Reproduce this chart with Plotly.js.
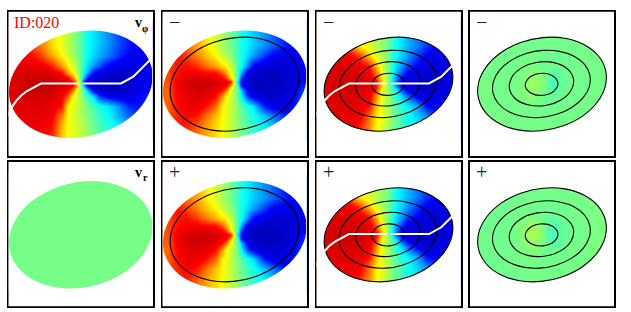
<!DOCTYPE html>
<html><head><meta charset="utf-8">
<script src="https://cdn.plot.ly/plotly-3.0.1.min.js"></script>
<style>html,body{margin:0;padding:0;background:#fff}</style></head>
<body><div id="chart" style="width:631px;height:312px"></div>
<script>
const gridX = [5.8,15.4,25,34.6,44.2,53.8,60,65,69,72.5,76,80,86,92.2,101.8,111.4,121,130.6,140.2];
const gridY = [15,25,35,45,55,62,67,71,75,79,85,95,105,115,125];
const mapVPhi = [
[.8,.75,.62,.48,.32,.2,.12,.05,-.02,-.08,-.15,-.23,-.3,-.37,-.48,-.6,-.7,-.8,-.8],
[.8,.75,.62,.48,.32,.2,.12,.05,-.02,-.08,-.15,-.23,-.3,-.37,-.48,-.6,-.7,-.8,-.8],
[.8,.75,.62,.48,.32,.2,.12,.05,-.02,-.08,-.15,-.23,-.3,-.37,-.48,-.6,-.7,-.8,-.8],
[.8,.78,.73,.6,.43,.27,.15,.07,.01,-.06,-.14,-.25,-.33,-.41,-.53,-.66,-.78,-.82,-.82],
[.85,.85,.85,.8,.7,.45,.3,.19,.08,-.06,-.2,-.32,-.46,-.6,-.8,-.85,-.85,-.82,-.8],
[.88,.9,.9,.9,.85,.75,.45,.27,.1,-.03,-.25,-.43,-.75,-.85,-.92,-.95,-.92,-.85,-.8],
[.88,.92,.95,.95,.92,.85,.78,.5,.25,-.05,-.35,-.75,-.88,-.95,-1,-1,-.95,-.87,-.8],
[.88,.93,.98,1,.97,.9,.82,.75,.45,0,-.75,-.85,-.93,-1,-1,-1,-.95,-.87,-.8],
[.88,.93,.98,1,.97,.9,.82,.75,.45,.05,-.33,-.78,-.9,-1,-1,-1,-.95,-.87,-.8],
[.88,.93,.95,.97,.94,.85,.78,.54,.22,.06,-.12,-.4,-.82,-.92,-1,-1,-.92,-.85,-.78],
[.88,.9,.92,.92,.88,.78,.6,.25,.15,.07,-.03,-.14,-.35,-.66,-.82,-.88,-.85,-.75,-.7],
[.85,.87,.88,.87,.83,.72,.27,.2,.15,.1,.03,-.03,-.12,-.21,-.32,-.46,-.68,-.72,-.65],
[.82,.84,.85,.83,.78,.5,.25,.19,.14,.1,.05,0,-.07,-.15,-.26,-.4,-.55,-.68,-.65],
[.8,.82,.82,.8,.73,.4,.23,.2,.16,.13,.09,.05,-.05,-.11,-.2,-.28,-.4,-.5,-.55],
[.78,.8,.8,.78,.68,.38,.23,.2,.16,.13,.09,.05,-.02,-.08,-.16,-.26,-.38,-.45,-.5]];
const mapModel = [
[.6,.68,.55,.43,.3,.17,.09,.03,-.03,-.08,-.14,-.2,-.28,-.35,-.45,-.56,-.67,-.78,-.8],
[.6,.68,.55,.43,.3,.17,.09,.03,-.03,-.08,-.14,-.2,-.28,-.35,-.45,-.56,-.67,-.78,-.8],
[.6,.68,.55,.43,.3,.17,.09,.03,-.03,-.08,-.14,-.2,-.28,-.35,-.45,-.56,-.67,-.78,-.8],
[.62,.74,.62,.5,.38,.27,.15,.09,.02,-.05,-.13,-.22,-.33,-.45,-.63,-.78,-.85,-.87,-.8],
[.62,.7,.73,.66,.54,.42,.33,.26,.14,.02,-.12,-.22,-.5,-.78,-.88,-.92,-.92,-.88,-.78],
[.6,.72,.78,.78,.76,.73,.6,.42,.22,.05,-.13,-.45,-.85,-.92,-.97,-.97,-.95,-.9,-.78],
[.6,.75,.85,.88,.88,.82,.77,.6,.3,.07,-.15,-.65,-.88,-.95,-1,-1,-.97,-.9,-.75],
[.58,.78,.9,.95,.95,.9,.85,.8,.76,.1,-.3,-.78,-.9,-1,-1,-1,-1,-.9,-.72],
[.58,.78,.9,.95,.95,.88,.8,.76,.4,.08,-.1,-.75,-.9,-1,-1,-1,-.97,-.88,-.7],
[.56,.77,.88,.92,.92,.83,.76,.5,.2,.06,-.05,-.4,-.8,-.95,-1,-1,-.95,-.85,-.65],
[.55,.75,.85,.88,.85,.75,.5,.25,.15,.05,-.06,-.28,-.65,-.85,-.95,-.95,-.9,-.8,-.6],
[.55,.72,.82,.83,.73,.55,.3,.2,.13,.07,0,-.08,-.2,-.32,-.68,-.85,-.85,-.75,-.55],
[.55,.68,.76,.71,.54,.37,.27,.19,.13,.07,.02,-.04,-.13,-.21,-.35,-.5,-.65,-.76,-.6],
[.55,.7,.69,.57,.45,.33,.25,.18,.13,.08,.03,-.02,-.09,-.16,-.27,-.38,-.5,-.62,-.7],
[.55,.72,.65,.53,.42,.32,.25,.18,.13,.08,.03,-.02,-.08,-.14,-.24,-.34,-.45,-.55,-.65]];
const mapSum = [
[.8,.8,.75,.51,.27,.17,.11,.05,.02,-.05,-.12,-.22,-.31,-.39,-.51,-.64,-.76,-.8,-.8],
[.8,.8,.75,.51,.27,.17,.11,.05,.02,-.05,-.12,-.22,-.31,-.39,-.51,-.64,-.76,-.8,-.8],
[.8,.8,.75,.51,.27,.17,.11,.05,.02,-.05,-.12,-.22,-.31,-.39,-.51,-.64,-.76,-.8,-.8],
[.82,.85,.82,.78,.63,.34,.19,.11,.05,-.04,-.13,-.25,-.35,-.46,-.64,-.78,-.85,-.85,-.82],
[.85,.88,.88,.85,.82,.7,.4,.22,.09,-.03,-.17,-.3,-.45,-.6,-.78,-.88,-.9,-.88,-.82],
[.85,.9,.92,.9,.87,.78,.55,.3,.12,-.01,-.2,-.37,-.58,-.8,-.88,-.92,-.92,-.88,-.82],
[.85,.9,.93,.93,.9,.83,.66,.35,.15,0,-.22,-.44,-.75,-.85,-.92,-.95,-.95,-.9,-.82],
[.85,.9,.95,.95,.92,.85,.78,.45,.2,.02,-.25,-.5,-.8,-.88,-.95,-1,-.97,-.9,-.82],
[.85,.92,.95,.95,.92,.85,.75,.4,.17,.02,-.18,-.45,-.75,-.85,-.95,-1,-.95,-.88,-.8],
[.85,.9,.93,.93,.9,.82,.7,.27,.14,.04,-.1,-.25,-.58,-.8,-.92,-.97,-.92,-.86,-.8],
[.85,.88,.9,.9,.87,.78,.5,.27,.13,.05,-.04,-.18,-.34,-.55,-.82,-.9,-.88,-.82,-.75],
[.85,.87,.88,.88,.82,.72,.4,.24,.13,.06,-.02,-.08,-.2,-.27,-.43,-.74,-.82,-.78,-.7],
[.82,.85,.85,.83,.8,.52,.3,.24,.16,.1,.01,-.04,-.13,-.21,-.35,-.48,-.62,-.75,-.7],
[.8,.82,.82,.8,.7,.47,.27,.21,.15,.07,0,-.05,-.12,-.2,-.3,-.4,-.52,-.62,-.65],
[.8,.82,.82,.8,.65,.45,.27,.21,.15,.07,0,-.04,-.1,-.18,-.27,-.37,-.47,-.55,-.6]];
const coarseX = [5.8,15.4,25,34.6,44.2,53.8,63.4,73,82.6,92.2,101.8,111.4,121,130.6,140.2];
const coarseY = [15,25,35,45,55,65,75,85,95,105,115,125];
const mapVr = [
[-.02,-.02,-.02,-.02,-.02,-.02,-.02,-.02,-.02,-.02,-.02,-.02,-.02,-.02,-.02],
[-.02,-.02,-.02,-.02,-.02,-.02,-.02,-.02,-.02,-.02,-.02,-.02,-.02,-.02,-.02],
[-.02,-.02,-.02,-.02,-.02,-.02,-.02,-.02,-.02,-.02,-.02,-.02,-.02,-.02,-.02],
[-.02,-.02,-.02,-.02,-.02,-.02,-.02,-.02,-.02,-.02,-.02,-.02,-.02,-.02,-.02],
[-.02,-.02,-.02,-.02,-.02,-.02,-.02,-.02,-.02,-.02,-.02,-.02,-.02,-.02,-.02],
[-.02,-.02,-.02,-.02,-.02,-.02,-.02,-.02,-.02,-.02,-.02,-.02,-.02,-.02,-.02],
[-.02,-.02,-.02,-.02,-.02,-.02,-.02,-.02,-.02,-.02,-.02,-.02,-.02,-.02,-.02],
[-.02,-.02,-.02,-.02,-.02,-.02,-.02,-.02,-.02,-.02,-.02,-.02,-.02,-.02,-.02],
[-.02,-.02,-.02,-.02,-.02,-.02,-.02,-.02,-.02,-.02,-.02,-.02,-.02,-.02,-.02],
[-.02,-.02,-.02,-.02,-.02,-.02,-.02,-.02,-.02,-.02,-.02,-.02,-.02,-.02,-.02],
[-.02,-.02,-.02,-.02,-.02,-.02,-.02,-.02,-.02,-.02,-.02,-.02,-.02,-.02,-.02],
[-.02,-.02,-.02,-.02,-.02,-.02,-.02,-.02,-.02,-.02,-.02,-.02,-.02,-.02,-.02]];
const mapResMinus = [
[-.02,-.02,-.02,-.02,-.02,-.02,-.02,-.02,-.02,-.02,-.02,-.02,-.02,-.02,-.02],
[-.02,-.02,-.02,-.02,-.02,-.02,-.02,-.02,-.02,-.02,-.02,-.02,-.02,-.02,-.02],
[-.01,-.02,-.02,-.03,-.02,-.02,-.03,-.02,-.02,-.03,-.02,-.02,-.03,-.02,-.02],
[-.01,-.02,-.02,-.02,-.03,-.02,-.02,-.03,-.03,-.03,-.02,-.02,-.02,-.02,-.02],
[-.01,-.02,-.02,-.02,-.02,-.02,-.01,-.03,-.04,-.03,-.02,-.02,-.02,-.02,-.02],
[-.01,-.02,-.02,-.02,-.02,0,.05,.01,-.1,-.06,-.02,-.03,-.02,-.02,-.02],
[-.01,-.01,-.02,-.02,-.02,.01,.07,.02,-.12,-.06,-.02,-.03,-.02,-.02,-.02],
[-.01,-.01,-.02,-.02,-.02,0,.02,-.02,-.05,-.03,-.02,-.02,-.02,-.02,-.02],
[-.01,-.01,-.02,-.02,-.02,-.02,-.02,-.03,-.03,-.02,-.02,-.02,-.02,-.02,-.02],
[-.01,-.01,-.01,-.02,-.02,-.02,-.02,-.02,-.02,-.02,-.02,-.02,-.02,-.02,-.02],
[-.01,-.01,-.01,-.01,-.02,-.02,-.02,-.02,-.02,-.02,-.02,-.02,-.02,-.02,-.02],
[-.01,-.01,-.01,-.01,-.02,-.02,-.02,-.02,-.02,-.02,-.02,-.02,-.02,-.02,-.02]];
const mapResPlus = [
[-.02,-.02,-.02,-.02,-.02,-.02,-.02,-.02,-.02,-.02,-.01,-.01,-.01,-.01,-.01],
[-.02,-.02,-.02,-.02,-.02,-.02,-.02,-.02,-.02,-.02,-.01,-.01,-.01,-.01,-.01],
[-.03,-.03,-.03,-.03,-.02,-.03,-.02,-.03,-.02,-.02,-.02,-.01,-.01,0,0],
[-.03,-.03,-.03,-.03,-.03,-.02,-.02,-.03,-.03,-.03,-.02,-.02,-.01,0,0],
[-.03,-.03,-.03,-.03,-.02,-.02,-.01,-.03,-.05,-.03,-.02,-.02,-.01,0,0],
[-.03,-.03,-.03,-.03,-.02,.02,.08,.01,-.12,-.06,-.03,-.02,-.01,0,0],
[-.03,-.03,-.03,-.03,-.02,.02,.1,.02,-.14,-.07,-.03,-.02,-.01,0,0],
[-.03,-.03,-.03,-.03,-.02,0,.03,-.02,-.05,-.04,-.02,-.02,-.01,0,0],
[-.03,-.03,-.03,-.03,-.02,-.02,-.02,-.03,-.03,-.02,-.02,-.02,-.01,0,0],
[-.03,-.03,-.03,-.03,-.02,-.02,-.02,-.02,-.02,-.02,-.02,-.01,-.01,0,0],
[-.03,-.03,-.03,-.03,-.03,-.02,-.02,-.02,-.02,-.02,-.01,-.01,-.01,0,0],
[-.03,-.03,-.03,-.03,-.03,-.02,-.02,-.02,-.02,-.02,-.01,-.01,-.01,0,0]];

const discX = [2.4,2.7,11.4,27.6,49.4,74,98.5,120,135.9,144.2,143.9,135.2,119,97.2,72.6,48,26.6,10.7];
const discY = [89.9,71.4,53.2,37.4,26.1,20.3,21,28,40.6,57.1,75.6,93.8,109.6,120.9,126.7,126,119,106.4];
const ringOuterX = [9.5,9.7,17.6,32.15,51.7,73.7,95.65,114.8,129.1,136.5,136.3,128.4,113.85,94.3,72.3,50.35,31.2,16.9];
const ringOuterY = [87.8,71.6,55.7,41.85,31.9,26.9,27.55,33.7,44.8,59.2,75.4,91.3,105.15,115.1,120.1,119.45,113.3,102.2];
const ringAX = [24,24.5,30.8,42.1,57.1,73.9,90.5,105,115.5,120.8,120.3,114,102.7,87.7,70.9,54.3,39.8,29.3];
const ringAY = [82.25,70.6,59.25,49.65,42.85,39.65,40.65,45.45,53.7,64.25,75.9,87.25,96.85,103.65,106.85,105.85,101.05,92.8];
const ringBX = [40.45,42.75,53,68.45,85,98.15,104.45,102.15,91.9,76.45,59.9,46.75];
const ringBY = [78.15,66.7,56.95,51.55,51.95,58,68.15,79.6,89.35,94.75,94.35,88.3];
const ringCX = [56.3,60,71.1,83,88.9,85.2,74.1,62.2];
const ringCY = [75.35,67.15,62.75,64.75,71.95,80.15,84.55,82.55];
const curveX = [0,3.5,9.5,14,19.5,29.5,33.5,71.5,null,75,113.5,125.8,135.8,141.8,146];
const curveY = [105.3,97.6,89.3,84.5,80.3,74.6,72.8,72.8,null,72.8,72.8,66,56.6,50,41];

const panelLefts = [7.5,161.5,315.5,469];
const panelTops = [10.7,161.3];
const panelSize = 146;
const W = 631, H = 312;
const jet = [[0,'#0000c0'],[.125,'#0000ff'],[.375,'#00ffff'],[.5,'#7fff7f'],[.625,'#ffff00'],[.875,'#ff0000'],[1,'#c00000']];

const allRings = [[ringOuterX,ringOuterY],[ringAX,ringAY],[ringBX,ringBY],[ringCX,ringCY]];
const big = [discX,discY], small = [ringOuterX,ringOuterY];
const panels = [
 {z:mapVPhi, gx:gridX, gy:gridY, dy:0, disc:big, rings:[], curve:true, col:0,row:0},
 {z:mapModel, gx:gridX, gy:gridY, dy:0, disc:big, rings:[allRings[0]], curve:false, col:1,row:0, mark:'\u2212'},
 {z:mapSum, gx:gridX, gy:gridY, dy:0, disc:small, rings:allRings, curve:true, col:2,row:0, mark:'\u2212'},
 {z:mapResMinus, gx:coarseX, gy:coarseY, dy:0, disc:small, rings:allRings, curve:false, col:3,row:0, mark:'\u2212'},
 {z:mapVr, gx:coarseX, gy:coarseY, dy:0, disc:big, rings:[], curve:false, col:0,row:1},
 {z:mapModel, gx:gridX, gy:gridY, dy:2.5, disc:big, rings:[allRings[0]], curve:false, col:1,row:1, mark:'+'},
 {z:mapSum, gx:gridX, gy:gridY, dy:0, disc:small, rings:allRings, curve:true, col:2,row:1, mark:'+'},
 {z:mapResPlus, gx:coarseX, gy:coarseY, dy:0, disc:small, rings:allRings, curve:false, col:3,row:1, mark:'+'}
];

const traces = [], layout = {width:W,height:H,margin:{l:0,r:0,t:0,b:0},paper_bgcolor:'#fff',plot_bgcolor:'#fff',showlegend:false,annotations:[]};
panels.forEach((p,i)=>{
  const n = i===0?'':String(i+1);
  const xa = 'x'+n, ya = 'y'+n;
  const left = panelLefts[p.col], top = panelTops[p.row];
  const ax = {showticklabels:false,ticks:'',showgrid:false,zeroline:false,showline:true,mirror:true,linecolor:'#000',linewidth:2,layer:'below traces',fixedrange:true};
  layout['xaxis'+n] = Object.assign({domain:[(left+1)/W,(left+panelSize-1)/W],range:[1,145],anchor:ya},ax);
  layout['yaxis'+n] = Object.assign({domain:[1-(top+panelSize-1)/H,1-(top+1)/H],range:[145,1],anchor:xa},ax);
  traces.push({type:'heatmap',z:p.z,x:p.gx,y:p.gy.map(v=>v+p.dy),xaxis:xa,yaxis:ya,zmin:-1,zmax:1,zsmooth:'best',colorscale:jet,showscale:false,hoverinfo:'skip'});
  // white surround between the plot box and the disc outline
  traces.push({type:'scatter',mode:'lines',xaxis:xa,yaxis:ya,x:[-40,186,186,-40,-40],y:[-40,-40,186,186,-40],line:{width:0,color:'#fff'},hoverinfo:'skip'});
  traces.push({type:'scatter',mode:'lines',xaxis:xa,yaxis:ya,x:p.disc[0].concat(p.disc[0][0]),y:p.disc[1].concat(p.disc[1][0]),fill:'tonext',fillcolor:'#fff',line:{width:0,color:'#fff',shape:'spline',smoothing:1,simplify:false},hoverinfo:'skip'});
  p.rings.forEach(r=>{
    traces.push({type:'scatter',mode:'lines',xaxis:xa,yaxis:ya,x:r[0].concat(r[0][0]),y:r[1].concat(r[1][0]),line:{color:'#000',width:1.1,shape:'spline',smoothing:1},hoverinfo:'skip'});
  });
  if(p.curve) traces.push({type:'scatter',mode:'lines',xaxis:xa,yaxis:ya,x:curveX,y:curveY,cliponaxis:false,line:{color:'#fff',width:2},hoverinfo:'skip'});
  if(p.mark) layout.annotations.push({xref:xa,yref:ya,x:12.7,y:11,text:p.mark,showarrow:false,font:{family:'Liberation Serif',size:20,color:'#222'},xanchor:'center',yanchor:'middle'});
});
const labelFont = {family:'Liberation Serif',size:14,color:'#000'};
layout.annotations.push({xref:'x',yref:'y',x:4.5,y:11.5,text:'ID:020',showarrow:false,font:{family:'Liberation Serif',size:16,color:'#ff0000'},xanchor:'left',yanchor:'middle'});
layout.annotations.push({xref:'x',yref:'y',x:125,y:12,text:'<b>v</b>',showarrow:false,font:labelFont,xanchor:'left',yanchor:'middle'});
layout.annotations.push({xref:'x',yref:'y',x:132.5,y:17.5,text:'<b>\u03c6</b>',showarrow:false,font:{family:'Liberation Serif',size:10,color:'#000'},xanchor:'left',yanchor:'middle'});
layout.annotations.push({xref:'x5',yref:'y5',x:125,y:11,text:'<b>v</b>',showarrow:false,font:labelFont,xanchor:'left',yanchor:'middle'});
layout.annotations.push({xref:'x5',yref:'y5',x:133,y:16,text:'<b>r</b>',showarrow:false,font:{family:'Liberation Serif',size:10,color:'#000'},xanchor:'left',yanchor:'middle'});
Plotly.newPlot('chart',traces,layout,{displayModeBar:false,staticPlot:true});
</script></body></html>
